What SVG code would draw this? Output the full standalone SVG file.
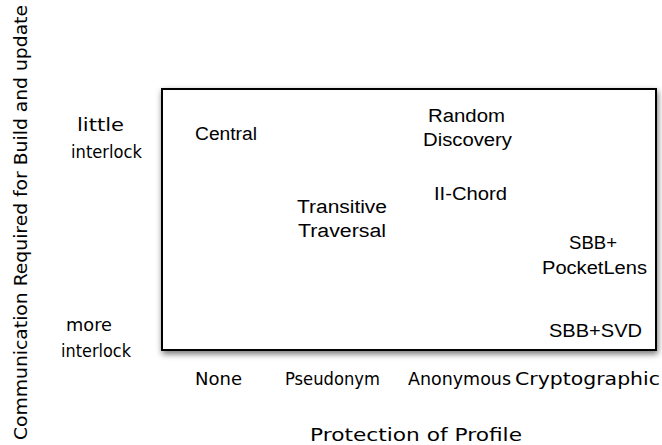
<svg xmlns="http://www.w3.org/2000/svg" width="662" height="445" viewBox="0 0 662 445">
<defs>
<filter id="sh" x="-10%" y="-10%" width="120%" height="125%">
<feGaussianBlur in="SourceAlpha" stdDeviation="3"/>
<feOffset dx="1" dy="3" result="b"/>
<feComponentTransfer><feFuncA type="linear" slope="0.55"/></feComponentTransfer>
<feMerge><feMergeNode/><feMergeNode in="SourceGraphic"/></feMerge>
</filter>
<style>
.n{font-family:"Liberation Sans",Arial,sans-serif;font-size:18px;fill:#000}
.a{font-family:"Comic Sans MS","DejaVu Sans",sans-serif;font-size:17px;fill:#000}
</style>
</defs>
<rect width="662" height="445" fill="#fff"/>
<g id="frame">
<rect x="162" y="89" width="494" height="261" fill="#fff" stroke="#000" stroke-width="2" filter="url(#sh)"/>
</g>
<g id="connectors"></g>
<g id="central"><text class="n" x="195" y="140" textLength="62" lengthAdjust="spacingAndGlyphs">Central</text></g>
<g id="random-discovery">
<text class="n" x="428" y="122" textLength="77" lengthAdjust="spacingAndGlyphs">Random</text>
<text class="n" x="423" y="146" textLength="89" lengthAdjust="spacingAndGlyphs">Discovery</text>
</g>
<g id="ii-chord"><text class="n" x="434" y="200" textLength="73" lengthAdjust="spacingAndGlyphs">II-Chord</text></g>
<g id="transitive-traversal">
<text class="n" x="297" y="213" textLength="90" lengthAdjust="spacingAndGlyphs">Transitive</text>
<text class="n" x="298" y="237" textLength="88" lengthAdjust="spacingAndGlyphs">Traversal</text>
</g>
<g id="sbb-pocketlens">
<text class="n" x="569" y="249" textLength="48" lengthAdjust="spacingAndGlyphs">SBB+</text>
<text class="n" x="542" y="274" textLength="105" lengthAdjust="spacingAndGlyphs">PocketLens</text>
</g>
<g id="sbb-svd"><text class="n" x="549" y="337" textLength="93" lengthAdjust="spacingAndGlyphs">SBB+SVD</text></g>
<g id="y-labels">
<text class="a" x="77" y="131" textLength="47" lengthAdjust="spacingAndGlyphs">little</text>
<text class="a" x="71" y="158" textLength="71" lengthAdjust="spacingAndGlyphs">interlock</text>
<text class="a" x="66" y="331" textLength="46" lengthAdjust="spacingAndGlyphs">more</text>
<text class="a" x="61" y="357" textLength="70" lengthAdjust="spacingAndGlyphs">interlock</text>
<text class="a" transform="translate(27,440) rotate(-90)" x="0" y="0" textLength="435" lengthAdjust="spacingAndGlyphs">Communication Required for Build and update</text>
</g>
<g id="x-labels">
<text class="a" x="195" y="385" textLength="47" lengthAdjust="spacingAndGlyphs">None</text>
<text class="a" x="285" y="385" textLength="95" lengthAdjust="spacingAndGlyphs">Pseudonym</text>
<text class="a" x="408" y="385" textLength="103" lengthAdjust="spacingAndGlyphs">Anonymous</text>
<text class="a" x="515" y="385" textLength="145" lengthAdjust="spacingAndGlyphs">Cryptographic</text>
<text class="a" x="310" y="441" textLength="212" lengthAdjust="spacingAndGlyphs">Protection of Profile</text>
</g>
</svg>
